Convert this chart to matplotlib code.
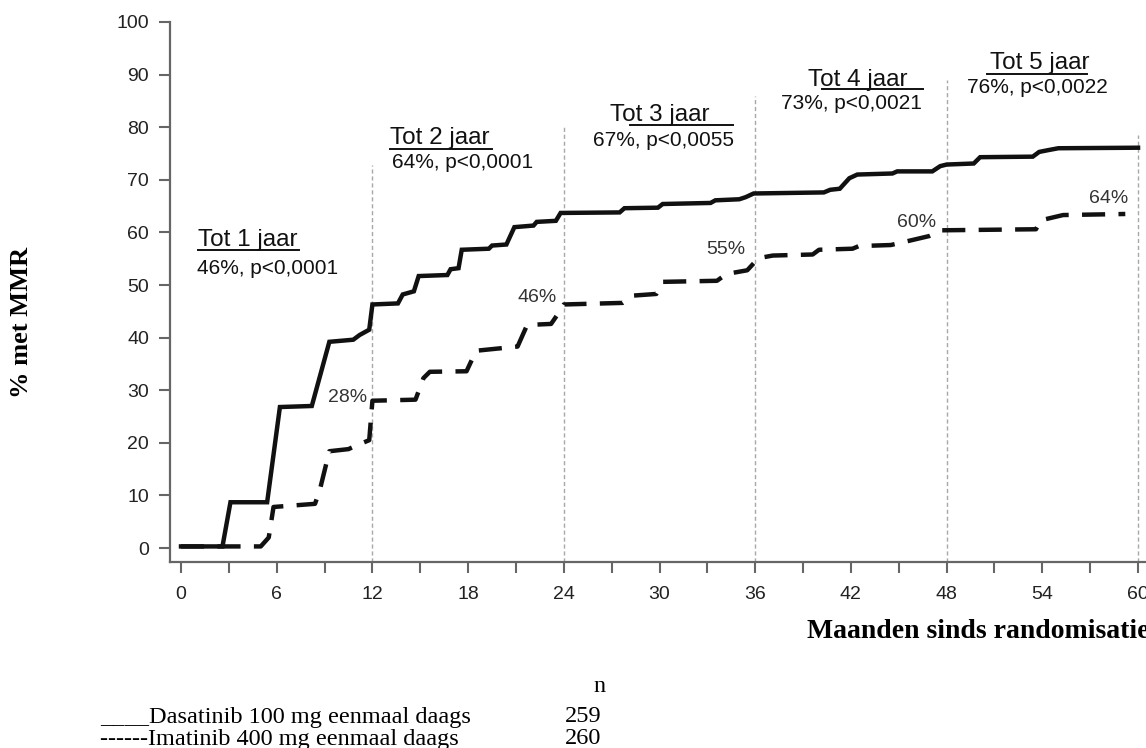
import matplotlib
matplotlib.use('Agg')
from matplotlib import pyplot as plt

# MMR cumulatief (%): (maand, %)
dasatinib_maand = [0, 2.6, 3.1, 5.4, 6.2, 8.2, 9.3, 10.8, 11.2, 11.8, 12.0, 13.6, 13.9, 14.6, 14.9,
                   16.7, 16.9, 17.4, 17.6, 19.3, 19.5, 20.4, 20.9, 22.1, 22.3, 23.5, 23.8, 27.5,
                   27.8, 29.9, 30.2, 33.2, 33.5, 35.0, 35.4, 35.9, 40.3, 40.7, 41.3, 41.9, 42.4,
                   44.6, 44.9, 47.1, 47.6, 48.0, 49.7, 50.1, 53.4, 53.8, 54.3, 55.0, 60.0]
dasatinib_pct = [0.3, 0.3, 8.7, 8.7, 26.8, 27.0, 39.2, 39.6, 40.5, 41.5, 46.3, 46.5, 48.2, 48.8, 51.7,
                 51.9, 53.0, 53.2, 56.7, 56.9, 57.5, 57.7, 61.0, 61.3, 62.0, 62.2, 63.7, 63.8,
                 64.6, 64.7, 65.4, 65.6, 66.1, 66.3, 66.7, 67.4, 67.6, 68.1, 68.3, 70.3, 71.0,
                 71.2, 71.6, 71.6, 72.6, 72.9, 73.1, 74.3, 74.4, 75.3, 75.6, 76.0, 76.1]

imatinib_maand = [0, 5.0, 5.5, 5.8, 8.4, 8.7, 9.3, 10.5, 11.0, 11.8, 12.0, 14.7, 15.2, 15.6, 17.9,
                  18.5, 21.1, 21.7, 23.2, 23.7, 24.0, 27.7, 28.4, 29.8, 30.2, 33.6, 34.2, 35.5,
                  36.2, 37.1, 39.6, 40.0, 42.1, 42.5, 44.5, 45.5, 46.9, 47.7, 53.6, 53.9, 55.3, 59.2]
imatinib_pct = [0.3, 0.3, 2.0, 7.8, 8.4, 11.0, 18.4, 18.8, 19.5, 20.5, 28.0, 28.2, 32.3, 33.5, 33.6,
                37.5, 38.3, 42.4, 42.6, 44.8, 46.3, 46.6, 48.0, 48.3, 50.6, 50.8, 52.1, 52.8,
                55.1, 55.6, 55.8, 56.7, 56.9, 57.4, 57.6, 58.3, 59.3, 60.4, 60.6, 62.3, 63.3, 63.5]

jaren_maand = [12, 24, 36, 48, 60]
jaren_lijn_top = [72.8, 80.0, 86.0, 89.0, 78.5]
jaren_titel = ['Tot 1 jaar', 'Tot 2 jaar', 'Tot 3 jaar', 'Tot 4 jaar', 'Tot 5 jaar']
jaren_tekst = ['46%, p<0,0001', '64%, p<0,0001', '67%, p<0,0055', '73%, p<0,0021', '76%, p<0,0022']
imatinib_labels = ['28%', '46%', '55%', '60%', '64%']

legenda_tekst = ['____Dasatinib 100 mg eenmaal daags', '------Imatinib 400 mg eenmaal daags']
legenda_n = ['259', '260']

# posities van de annotaties (data-coördinaten)
titel_pos = [(1.07, 58.6), (13.1, 78.0), (26.9, 82.3), (39.3, 89.0), (50.7, 92.2)]
tekst_pos = [(1.0, 53.2), (13.2, 73.2), (25.8, 77.4), (37.6, 84.6), (49.3, 87.6)]
onderstreep = [(1.07, 7.4, 56.7), (13.1, 19.5, 75.9), (28.15, 34.6, 80.4), (40.2, 46.5, 87.3), (50.5, 56.8, 90.1)]
label_pos = [(9.2, 28.7), (21.1, 47.7), (32.9, 56.7), (44.9, 61.9), (56.9, 66.4)]

SANS = ['Liberation Sans', 'DejaVu Sans']
SERIF = ['Liberation Serif', 'DejaVu Serif']

fig = plt.figure(figsize=(11.46, 7.48), dpi=100)
ax = fig.add_axes([170 / 1146, 1 - 562 / 748, 984 / 1146, 540 / 748])

# verticale lijnen per jaar
for m, top in zip(jaren_maand, jaren_lijn_top):
    ax.plot([m, m], [-2.66, top], color='#a8a8a8', lw=1.0, linestyle=(0, (3, 2)), zorder=1)

ax.plot(imatinib_maand, imatinib_pct, color='#111111', lw=3.2, linestyle=(0, (5.2, 3)),
        solid_joinstyle='miter', zorder=3)
ax.plot(dasatinib_maand, dasatinib_pct, color='#111111', lw=3.2, solid_joinstyle='miter', zorder=4)

for titel, (x, y) in zip(jaren_titel, titel_pos):
    ax.text(x, y, titel, fontsize=17.5, family=SANS, color='#111111', ha='left', va='center')
for tekst, (x, y) in zip(jaren_tekst, tekst_pos):
    ax.text(x, y, tekst, fontsize=15, family=SANS, color='#111111', ha='left', va='center')
for x0, x1, y in onderstreep:
    ax.plot([x0, x1], [y, y], color='#111111', lw=1.4, zorder=2)
for lab, (x, y) in zip(imatinib_labels, label_pos):
    ax.text(x, y, lab, fontsize=14, family=SANS, color='#333333', ha='left', va='center')

ax.set_xlim(-0.69, 61)
ax.set_ylim(-2.66, 100)
ax.set_xticks(range(0, 61, 6))
ax.set_xticks(range(0, 61, 3), minor=True)
ax.set_yticks(range(0, 101, 10))
ax.spines['top'].set_visible(False)
ax.spines['right'].set_visible(False)
for s in ('left', 'bottom'):
    ax.spines[s].set_color('#666666')
    ax.spines[s].set_linewidth(1.6)
ax.tick_params(which='both', direction='out', length=8, width=1.5, color='#666666')
ax.tick_params(axis='x', pad=9, labelsize=14, labelcolor='#222222')
ax.tick_params(axis='y', pad=7, labelsize=14, labelcolor='#222222')
for lab in ax.get_xticklabels() + ax.get_yticklabels():
    lab.set_family(SANS)

fig.text(22 / 1146, 1 - 322 / 748, '% met MMR', rotation=90, ha='center', va='center',
         fontsize=19, fontweight='bold', family=SERIF)
fig.text(807 / 1146, 1 - 632 / 748, 'Maanden sinds randomisatie', ha='left', va='center',
         fontsize=20, fontweight='bold', family=SERIF)

fig.text(593 / 1146, 1 - 687 / 748, 'n', ha='left', va='center', fontsize=17.5, family=SERIF)
for i, (tekst, n) in enumerate(zip(legenda_tekst, legenda_n)):
    y = 1 - (717 + 22 * i) / 748
    fig.text(100 / 1146, y, tekst, ha='left', va='center', fontsize=17.5, family=SERIF)
    fig.text(565 / 1146, y, n, ha='left', va='center', fontsize=17.5, family=SERIF)

fig.savefig('out.png', dpi=100)
